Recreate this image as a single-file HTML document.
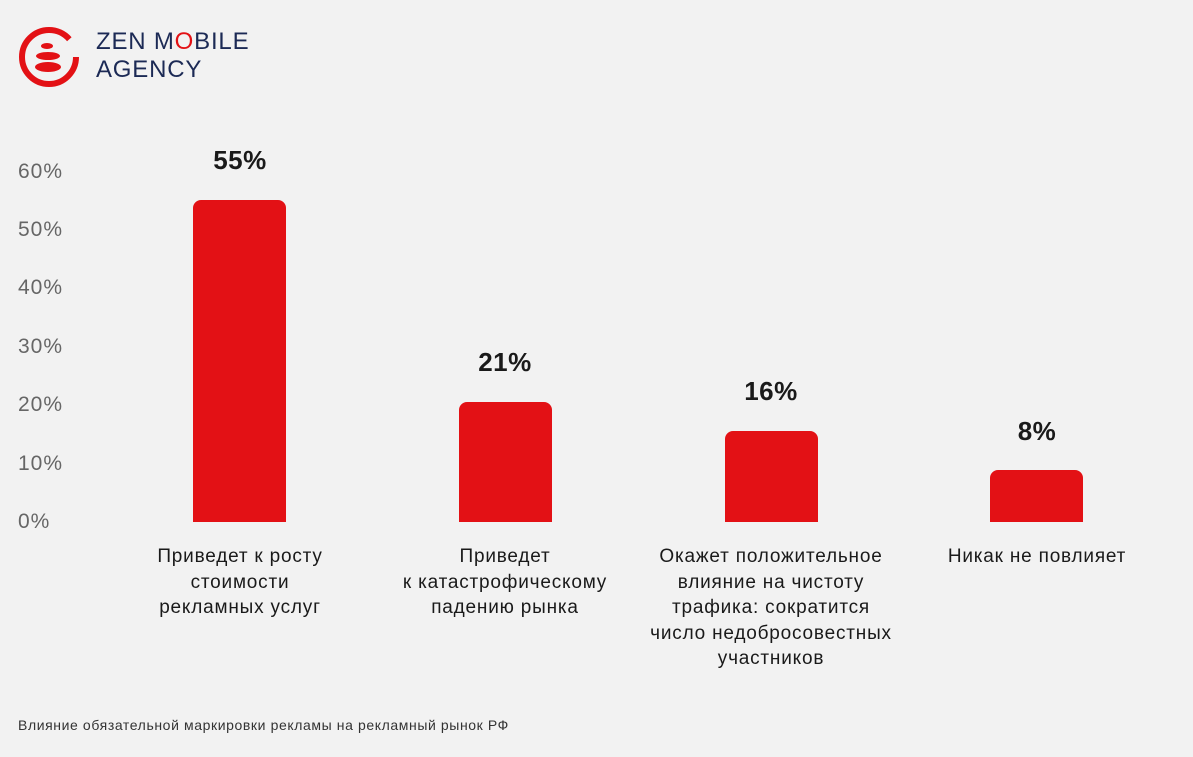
<!DOCTYPE html>
<html><head><meta charset="utf-8"><style>
body{margin:0;width:1193px;height:757px;background:#f2f2f2;font-family:"Liberation Sans",sans-serif;position:relative;overflow:hidden;color:#1a1a1a}
.a{position:absolute}
.yl{position:absolute;left:18px;font-size:21px;color:#666;line-height:20px;letter-spacing:1px}
.bar{position:absolute;background:#e31115;border-radius:8px 8px 0 0;width:93px}
.v{position:absolute;width:200px;text-align:center;font-weight:bold;font-size:26px;line-height:26px;letter-spacing:0.5px}
.c{position:absolute;width:300px;text-align:center;font-size:19px;line-height:25.5px;top:544px;letter-spacing:0.8px}
</style></head><body>
<svg class="a" style="left:16px;top:24px" width="68" height="64" viewBox="0 0 68 64">
<circle cx="33" cy="33" r="27" fill="none" stroke="#e31115" stroke-width="6" stroke-dasharray="150 20"/>
<ellipse cx="31" cy="22" rx="6" ry="3" fill="#e31115"/>
<ellipse cx="32" cy="32" rx="12" ry="4" fill="#e31115"/>
<ellipse cx="32" cy="43" rx="13" ry="5" fill="#e31115"/>
</svg>
<div class="a" style="left:96px;top:28px;font-size:24px;line-height:28px;color:#1c2a55;letter-spacing:0.8px">ZEN M<span style="color:#e31115">O</span>BILE<br>AGENCY</div>
<div class="yl" style="top:162px">60%</div>
<div class="yl" style="top:220px">50%</div>
<div class="yl" style="top:278px">40%</div>
<div class="yl" style="top:337px">30%</div>
<div class="yl" style="top:395px">20%</div>
<div class="yl" style="top:454px">10%</div>
<div class="yl" style="top:512px">0%</div>
<div class="bar" style="left:193px;top:200px;height:322px"></div>
<div class="bar" style="left:459px;top:402px;height:120px"></div>
<div class="bar" style="left:725px;top:431px;height:91px"></div>
<div class="bar" style="left:990px;top:470px;height:52px"></div>
<div class="v" style="left:140px;top:147px">55%</div>
<div class="v" style="left:405px;top:349px">21%</div>
<div class="v" style="left:671px;top:378px">16%</div>
<div class="v" style="left:937px;top:418px">8%</div>
<div class="c" style="left:90px">Приведет к росту<br>стоимости<br>рекламных услуг</div>
<div class="c" style="left:355px">Приведет<br>к катастрофическому<br>падению рынка</div>
<div class="c" style="left:621px">Окажет положительное<br>влияние на чистоту<br>трафика: сократится<br>число недобросовестных<br>участников</div>
<div class="c" style="left:887px">Никак не повлияет</div>
<div class="a" style="left:18px;top:717px;font-size:14px;color:#333;letter-spacing:0.6px">Влияние обязательной маркировки рекламы на рекламный рынок РФ</div>
</body></html>
